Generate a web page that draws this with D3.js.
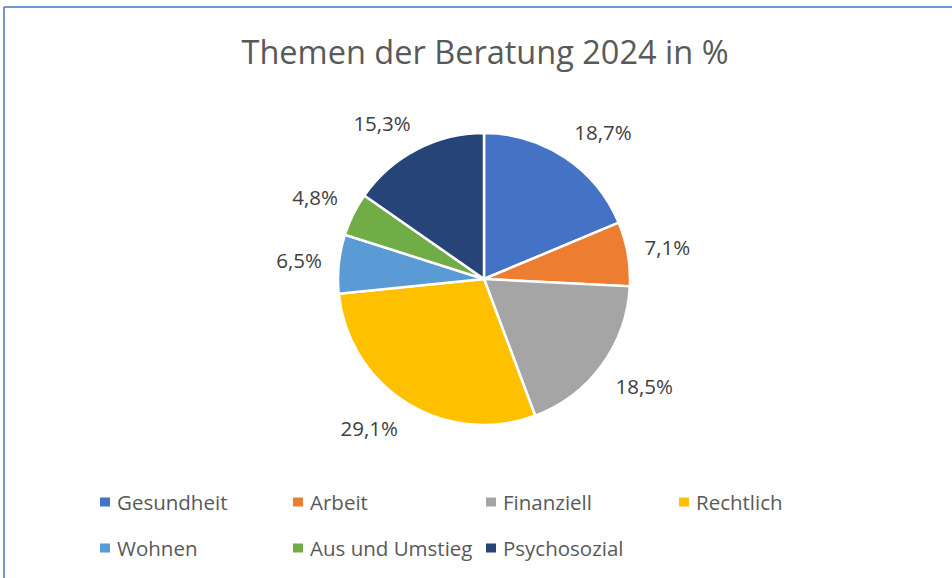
<!DOCTYPE html>
<html>
<head>
<meta charset="utf-8">
<script src="https://cdn.jsdelivr.net/npm/d3@7"></script>
<style>
    body { margin: 0; background: #fff; }
    svg { display: block; font-family: "Open Sans", "Noto Sans", sans-serif; }
</style>
</head>
<body>
<svg id="chart"></svg>
<script>
const title = "Themen der Beratung 2024 in %";
const categories = ["Gesundheit", "Arbeit", "Finanziell", "Rechtlich", "Wohnen", "Aus und Umstieg", "Psychosozial"];
const values = [18.7, 7.1, 18.5, 29.1, 6.5, 4.8, 15.3];
const colors = ["#4472C4", "#ED7D31", "#A5A5A5", "#FFC000", "#5B9BD5", "#70AD47", "#264478"];

const width = 952;
const height = 578;

let svg = d3.select("#chart").attr("width", width).attr("height", height);

// Rahmen (nur oben und links sichtbar)
svg.append("line").attr("x1", 4).attr("y1", 7).attr("x2", width).attr("y2", 7)
    .attr("stroke", "#4472C4").attr("stroke-width", 1.5);
svg.append("line").attr("x1", 4).attr("y1", 7).attr("x2", 4).attr("y2", height)
    .attr("stroke", "#4472C4").attr("stroke-width", 1.5);

svg.append("text")
    .attr("x", 485)
    .attr("y", 64)
    .attr("text-anchor", "middle")
    .attr("font-size", 32.5)
    .attr("fill", "#595959")
    .text(title);

const cx = 484, cy = 279, r = 146;
const data = categories.map((c, i) => ({name: c, value: values[i], color: colors[i]}));

let pie = d3.pie().value(d => d.value).sort(null);
let arc = d3.arc().innerRadius(0).outerRadius(r);
let arcs = pie(data);

let g = svg.append("g").attr("transform", `translate(${cx},${cy})`);
g.selectAll("path")
    .data(arcs)
    .join("path")
    .attr("d", arc)
    .attr("fill", d => d.data.color)
    .attr("stroke", "#fff")
    .attr("stroke-width", 2.5);

// Beschriftungen aussen, Box-Ecke an den Radius angelegt
const labelR = 163;
const fmt = v => v.toFixed(1).replace(".", ",") + "%";
const clamp = v => Math.max(-1, Math.min(1, v));
g.selectAll(".lbl")
    .data(arcs)
    .join("text")
    .attr("class", "lbl")
    .attr("font-size", 20.5)
    .attr("fill", "#404040")
    .attr("text-anchor", "middle")
    .attr("dominant-baseline", "central")
    .text(d => fmt(d.data.value))
    .each(function(d) {
        const a = (d.startAngle + d.endAngle) / 2;
        const w = this.getComputedTextLength();
        const h = 22;
        const px = labelR * Math.sin(a);
        const py = -labelR * Math.cos(a);
        d3.select(this)
            .attr("x", px + clamp(Math.sin(a) * 2) * w / 2)
            .attr("y", py - clamp(Math.cos(a) * 2) * h / 2);
    });

// Legende
const colW = 193;
const legend = svg.append("g");
let items = legend.selectAll("g")
    .data(data)
    .join("g")
    .attr("transform", (d, i) => `translate(${100 + (i % 4) * colW},${502 + Math.floor(i / 4) * 46})`);
items.append("rect")
    .attr("x", 0).attr("y", -4.5)
    .attr("width", 10).attr("height", 9)
    .attr("fill", d => d.color);
items.append("text")
    .attr("x", 17)
    .attr("y", 0)
    .attr("dominant-baseline", "central")
    .attr("font-size", 20.5)
    .attr("fill", "#595959")
    .text(d => d.name);
</script>
</body>
</html>
